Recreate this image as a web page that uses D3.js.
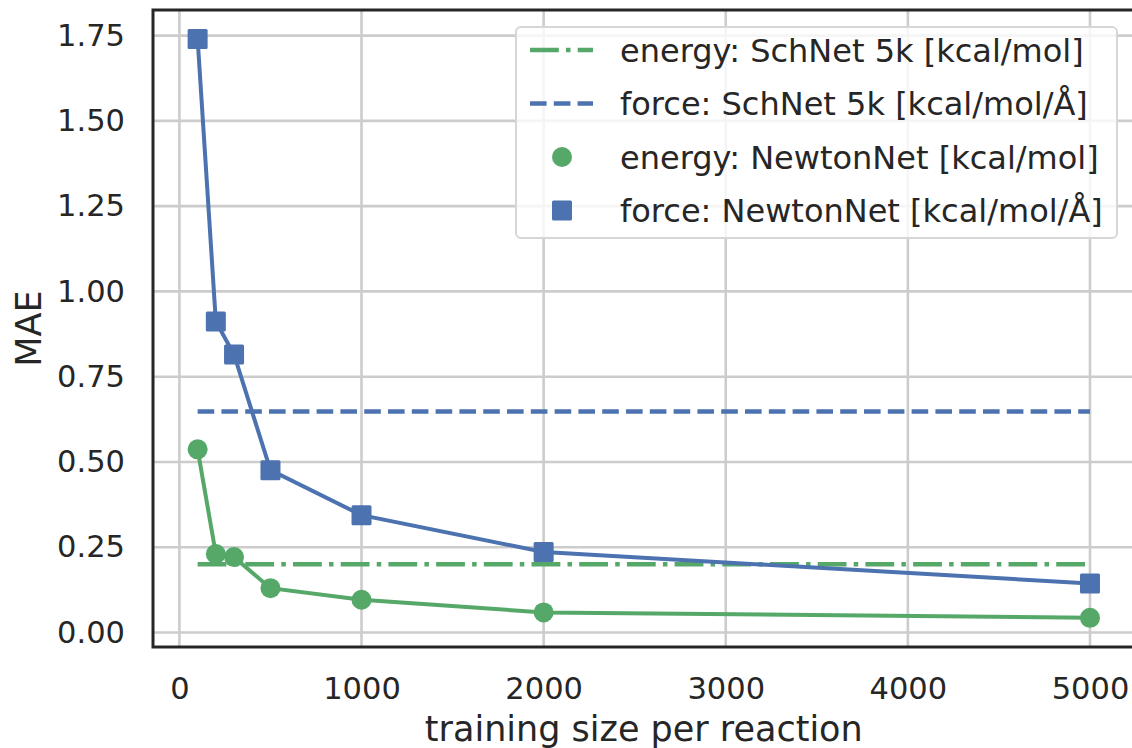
<!DOCTYPE html>
<meta charset="utf-8">
<script src="https://d3js.org/d3.v7.min.js"></script>
<style>
  body { margin: 0; background: #fff; }
  text { font-family: "DejaVu Sans", sans-serif; fill: #262626; }
</style>
<div id="chart"></div>
<script>
// data
var sizes = [100, 200, 300, 500, 1000, 2000, 5000];
var energyNewton = [0.537, 0.230, 0.221, 0.130, 0.096, 0.059, 0.043];
var forceNewton = [1.740, 0.912, 0.815, 0.476, 0.344, 0.236, 0.144];
var energySchNet = 0.200;
var forceSchNet = 0.648;
var schnetRange = [100, 5000];
var xTicks = [0, 1000, 2000, 3000, 4000, 5000];
var yTicks = [0, 0.25, 0.5, 0.75, 1.0, 1.25, 1.5, 1.75];
var legendLabels = [
  "energy: SchNet 5k [kcal/mol]",
  "force: SchNet 5k [kcal/mol/Å]",
  "energy: NewtonNet [kcal/mol]",
  "force: NewtonNet [kcal/mol/Å]"
];

var green = "#55a868", blue = "#4c72b0";

var W = 1132, H = 748;
var pL = 153, pR = 1134.6, pT = 10, pB = 647;

var svg = d3.select("#chart").append("svg")
  .attr("width", W).attr("height", H);

var x = d3.scaleLinear().domain([-145, 5245]).range([pL, pR]);
var y = d3.scaleLinear().domain([-0.0425, 1.825]).range([pB, pT]);

// grid
svg.append("g").selectAll("line").data(xTicks).enter().append("line")
  .attr("x1", d => x(d)).attr("x2", d => x(d))
  .attr("y1", pT).attr("y2", pB)
  .attr("stroke", "#cccccc").attr("stroke-width", 2.6);
svg.append("g").selectAll("line").data(yTicks).enter().append("line")
  .attr("x1", pL).attr("x2", pR)
  .attr("y1", d => y(d)).attr("y2", d => y(d))
  .attr("stroke", "#cccccc").attr("stroke-width", 2.6);

// axes (tick labels only, no tick marks)
svg.append("g")
  .attr("transform", "translate(0," + pB + ")")
  .call(d3.axisBottom(x).tickValues(xTicks).tickSize(0).tickPadding(30).tickFormat(d3.format("d")));
svg.append("g")
  .attr("transform", "translate(" + pL + ",0)")
  .call(d3.axisLeft(y).tickValues(yTicks).tickSize(0).tickPadding(28).tickFormat(d3.format(".2f")));
svg.selectAll(".domain").remove();
svg.selectAll(".tick text")
  .style("font-family", "DejaVu Sans").style("font-size", "30.5px").attr("fill", "#262626");

// SchNet reference lines
var flat = d3.line().x(d => x(d[0])).y(d => y(d[1]));
svg.append("path")
  .attr("d", flat(schnetRange.map(v => [v, energySchNet])))
  .attr("fill", "none").attr("stroke", green).attr("stroke-width", 4.5)
  .attr("stroke-dasharray", "28.8,7.2,4.5,7.2");
svg.append("path")
  .attr("d", flat(schnetRange.map(v => [v, forceSchNet])))
  .attr("fill", "none").attr("stroke", blue).attr("stroke-width", 4.5)
  .attr("stroke-dasharray", "16.6,7.2");

// NewtonNet curves
var line = d3.line().x((d, i) => x(sizes[i])).y(d => y(d));
svg.append("path").attr("d", line(energyNewton))
  .attr("fill", "none").attr("stroke", green).attr("stroke-width", 4);
svg.append("g").selectAll("circle").data(energyNewton).enter().append("circle")
  .attr("cx", (d, i) => x(sizes[i])).attr("cy", d => y(d)).attr("r", 10)
  .attr("fill", green);

svg.append("path").attr("d", line(forceNewton))
  .attr("fill", "none").attr("stroke", blue).attr("stroke-width", 4);
svg.append("g").selectAll("rect").data(forceNewton).enter().append("rect")
  .attr("x", (d, i) => x(sizes[i]) - 10).attr("y", d => y(d) - 10)
  .attr("width", 20).attr("height", 20).attr("rx", 1.5)
  .attr("fill", blue);

// spines
svg.append("rect")
  .attr("x", pL).attr("y", pT)
  .attr("width", pR - pL).attr("height", pB - pT)
  .attr("fill", "none").attr("stroke", "#262626").attr("stroke-width", 3);

// legend
var lg = svg.append("g");
lg.append("rect")
  .attr("x", 516).attr("y", 27).attr("width", 601).attr("height", 211).attr("rx", 5)
  .attr("fill", "#ffffff").attr("fill-opacity", 0.8)
  .attr("stroke", "#d6d6d6").attr("stroke-width", 2);
var rowY = [50, 103.5, 157, 210.5];
lg.append("line").attr("x1", 530).attr("x2", 593).attr("y1", rowY[0]).attr("y2", rowY[0])
  .attr("stroke", green).attr("stroke-width", 4.5).attr("stroke-dasharray", "28.8,7.2,4.5,7.2");
lg.append("line").attr("x1", 530).attr("x2", 593).attr("y1", rowY[1]).attr("y2", rowY[1])
  .attr("stroke", blue).attr("stroke-width", 4.5).attr("stroke-dasharray", "16.6,7.2");
lg.append("circle").attr("cx", 562).attr("cy", rowY[2]).attr("r", 10).attr("fill", green);
lg.append("rect").attr("x", 552).attr("y", rowY[3] - 10).attr("width", 20).attr("height", 20)
  .attr("rx", 1.5).attr("fill", blue);
lg.selectAll("text.lab").data(legendLabels).enter().append("text")
  .attr("class", "lab")
  .attr("x", 620).attr("y", (d, i) => rowY[i])
  .attr("dy", "0.36em")
  .style("font-size", "32px")
  .text(d => d);

// axis labels
svg.append("text")
  .attr("x", (pL + pR) / 2).attr("y", 741)
  .attr("text-anchor", "middle").style("font-size", "35px")
  .text("training size per reaction");
svg.append("text")
  .attr("transform", "translate(41," + ((pT + pB) / 2) + ") rotate(-90)")
  .attr("text-anchor", "middle").style("font-size", "35px")
  .text("MAE");
</script>
